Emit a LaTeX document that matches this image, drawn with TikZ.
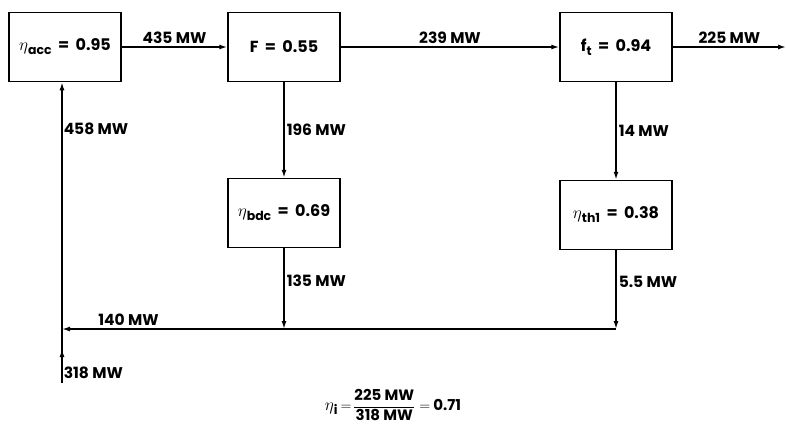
\documentclass[tikz,border=0pt]{standalone}
\usepackage{amsmath}
\usepackage{fontspec}
\setmainfont{Poppins}
\usetikzlibrary{arrows.meta}

\newcommand{\lowsub}[1]{\raisebox{-0.45ex}{\fontsize{12.5}{13}\selectfont #1}}
\newcommand{\eqs}{\hspace{0.4em}=\hspace{0.4em}}
\newcommand{\etab}{{\fontsize{19}{19}\selectfont$\eta$}}

\tikzset{
    block/.style={draw, line width=1.5pt, minimum width=112pt, minimum height=69pt,
        inner sep=0pt, font=\fontsize{16}{18}\selectfont\bfseries},
    flow/.style={line width=1.5pt, -{Latex[length=8pt,width=5pt]}},
    wire/.style={line width=1.5pt},
    flowlabel/.style={font=\fontsize{15.5}{17}\selectfont\bfseries, inner sep=2pt},
}

\begin{document}
\begin{tikzpicture}[x=1pt, y=-1pt]
    \useasboundingbox (0,0) rectangle (786,428);

    % Top row
    \node[block] (acc) at (65, 47) {\etab\lowsub{acc}\eqs0.95};
    \node[block] (fus) at (284, 47) {F\eqs0.55};
    \node[block] (tur) at (616, 47) {f\lowsub{t}\eqs0.94};

    % Converters
    \node[block] (bdc) at (284, 213) {\etab\lowsub{bdc}\eqs0.69};
    \node[block] (th) at (616, 215) {\etab\lowsub{th1}\eqs0.38};

    \coordinate (out) at (786, 47);
    \coordinate (jb) at (284, 329);
    \coordinate (jt) at (616, 329);
    \coordinate (jl) at (62, 329);
    \coordinate (src) at (62, 383);

    % Main power flow
    \draw[flow] (acc) -- (fus) node[flowlabel, midway, above=1pt] {435 MW};
    \draw[flow] (fus) -- (tur) node[flowlabel, midway, above=1pt] {239 MW};
    \draw[flow] (tur) -- (out) node[flowlabel, midway, above=1pt] {225 MW};

    % Branches to converters
    \draw[flow] (fus) -- (bdc) node[flowlabel, midway, right] {196 MW};
    \draw[flow] (tur) -- (th) node[flowlabel, midway, right] {14 MW};
    \draw[flow] (bdc) -- (jb) node[flowlabel, pos=0.4, right] {135 MW};
    \draw[flow] (th) -- (jt) node[flowlabel, pos=0.4, right] {5.5 MW};

    % Recirculated power
    \draw[flow] (jt) -- (jl) node[flowlabel, pos=0.88, above=1pt] {140 MW};
    \draw[flow] (src) -- ++(0,-34) node[flowlabel, pos=0.3, right=-1pt] {318 MW};
    \draw[wire] (src) -- (jl);
    \draw[flow] (jl) -- (jl |- acc.south) node[flowlabel, pos=0.81, right=-1pt] {458 MW};

    % Overall efficiency
    \node[font=\fontsize{15}{16}\selectfont\bfseries] (eff) at (393, 405)
        {\etab\lowsub{i} $=\!\dfrac{\text{225 MW}}{\text{318 MW}}=$ 0.71};
\end{tikzpicture}
\end{document}
